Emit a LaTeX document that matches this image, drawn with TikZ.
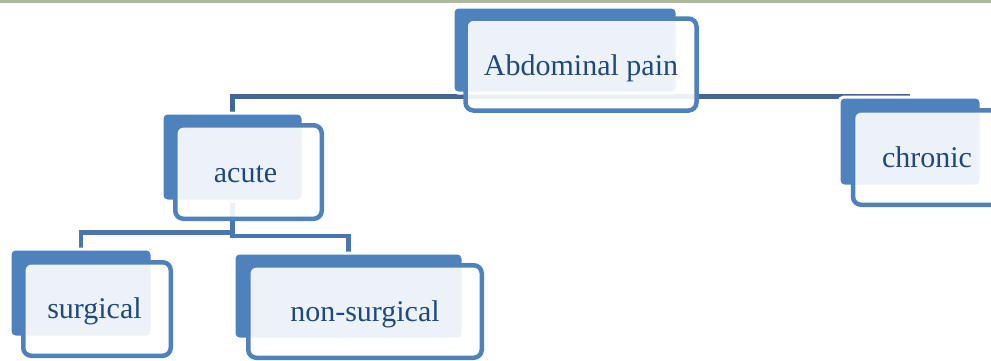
\documentclass[tikz,border=0pt]{standalone}
\usepackage{fontspec}
\setmainfont{Liberation Serif}
\definecolor{boxblue}{RGB}{79,129,189}
\definecolor{linetop}{RGB}{63,103,152}
\definecolor{linelow}{RGB}{72,118,178}
\definecolor{txtblue}{RGB}{31,73,125}
\definecolor{rule}{RGB}{174,184,156}
\pgfdeclarelayer{conns}
\pgfsetlayers{conns,main}
\tikzset{
  backbox/.style={rectangle, rounded corners=5pt, fill=boxblue, draw=white, line width=3pt, inner sep=0pt},
  frontbox/.style={rectangle, rounded corners=8pt, draw=boxblue, line width=4.5pt, fill=white, fill opacity=0.9, inner sep=0pt},
  conn/.style={draw=linetop, line width=4.5pt},
  conn2/.style={draw=linelow, line width=4.5pt},
  lbl/.style={anchor=base, text=txtblue, font=\fontsize{30}{36}\selectfont, inner sep=0pt}
}
\begin{document}
\begin{tikzpicture}[x=1pt,y=-1pt]
\useasboundingbox (0,0) rectangle (991,360);
\fill[rule] (0,0) rectangle (991,2.5);
% back boxes
\path
  (565,50)    node[backbox, minimum width=224pt, minimum height=86pt] (abdb) {}
  (232.5,157) node[backbox, minimum width=141pt, minimum height=88pt] (acuteb) {}
  (910,141.5) node[backbox, minimum width=142pt, minimum height=89pt] (chronb) {}
  (81,293)    node[backbox, minimum width=142pt, minimum height=88pt] (surgb) {}
  (348.5,296) node[backbox, minimum width=229pt, minimum height=86pt] (nsb) {};
% front boxes
\path
  (581,64.5)   node[frontbox, minimum width=231pt, minimum height=92pt] (abd) {}
  (248.5,172)  node[frontbox, minimum width=146.5pt, minimum height=93.5pt] (acute) {}
  (926.5,157.5) node[frontbox, minimum width=147pt, minimum height=94.5pt] (chron) {}
  (97,309)     node[frontbox, minimum width=147.5pt, minimum height=93.5pt] (surg) {}
  (365,311.5)  node[frontbox, minimum width=233.5pt, minimum height=92.5pt] (ns) {};
% labels
\node[lbl] (abdt)   at (581,75)  {Abdominal pain};
\node[lbl] (acutet) at (245.5,182) {acute};
\node[lbl] (chront) at (927,167) {chronic};
\node[lbl] (surgt)  at (94.5,318) {surgical};
\node[lbl] (nst)    at (365,321) {non-surgical};
% connectors beneath boxes
\coordinate (j1) at (565,96.5);
\coordinate (ja) at (232.5,232.5);
\coordinate (jb) at (232.5,236);
\begin{pgfonlayer}{conns}
  \draw[conn] (acuteb.north) |- (j1) -| (chronb.north);
  \draw[conn2] (acuteb.south) -- (jb) -| (nsb.north);
  \draw[conn2] (ja) -| (surgb.north);
\end{pgfonlayer}
\end{tikzpicture}
\end{document}
